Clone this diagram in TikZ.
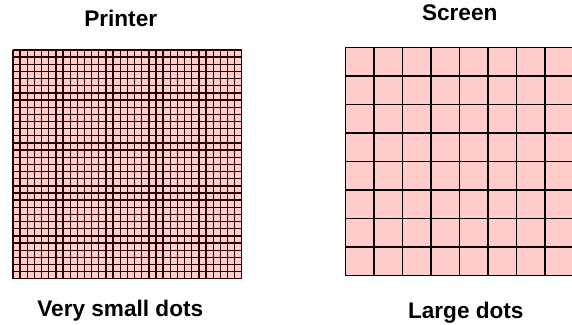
\documentclass[tikz,border=0pt]{standalone}
\usepackage{fontspec}
\setmainfont{Liberation Sans}
\usetikzlibrary{positioning}
\definecolor{dotpink}{RGB}{255,204,204}

\begin{document}
\begin{tikzpicture}[x=1pt,y=-1pt]
        \tikzstyle{dotlabel} = [font=\fontsize{22.6}{27}\selectfont\bfseries, anchor=base, inner sep=0pt]
        \tikzstyle{fineline} = [draw=black!85!red, line width=1.35pt]
        \tikzstyle{coarseline} = [draw=black, line width=1.5pt]

        \useasboundingbox (0,0) rectangle (572,324);

        % printer: 32 x 32 very small dots
        \begin{scope}[shift={(13,50)}]
            \fill[dotpink] (0,0) rectangle (228.8,228.8);
            \foreach \i in {0,...,32} {
                \draw[fineline] (\i*7.15,0) -- (\i*7.15,228.8);
                \draw[fineline] (0,\i*7.15) -- (228.8,\i*7.15);
            }
        \end{scope}

        % screen: 8 x 8 large dots
        \begin{scope}[shift={(345.3,47.3)}]
            \fill[dotpink] (0,0) rectangle (228,228);
            \foreach \i in {0,...,8} {
                \draw[coarseline] (\i*28.5,0) -- (\i*28.5,228);
                \draw[coarseline] (0,\i*28.5) -- (228,\i*28.5);
            }
        \end{scope}

        \node (printer) [dotlabel] at (120.7,26.7) {Printer};
        \node (screen) [dotlabel] at (459.7,20.7) {Screen};
        \node (small) [dotlabel] at (120.3,316.7) {Very small dots};
        \node (large) [dotlabel] at (465.8,318) {Large dots};
\end{tikzpicture}
\end{document}
